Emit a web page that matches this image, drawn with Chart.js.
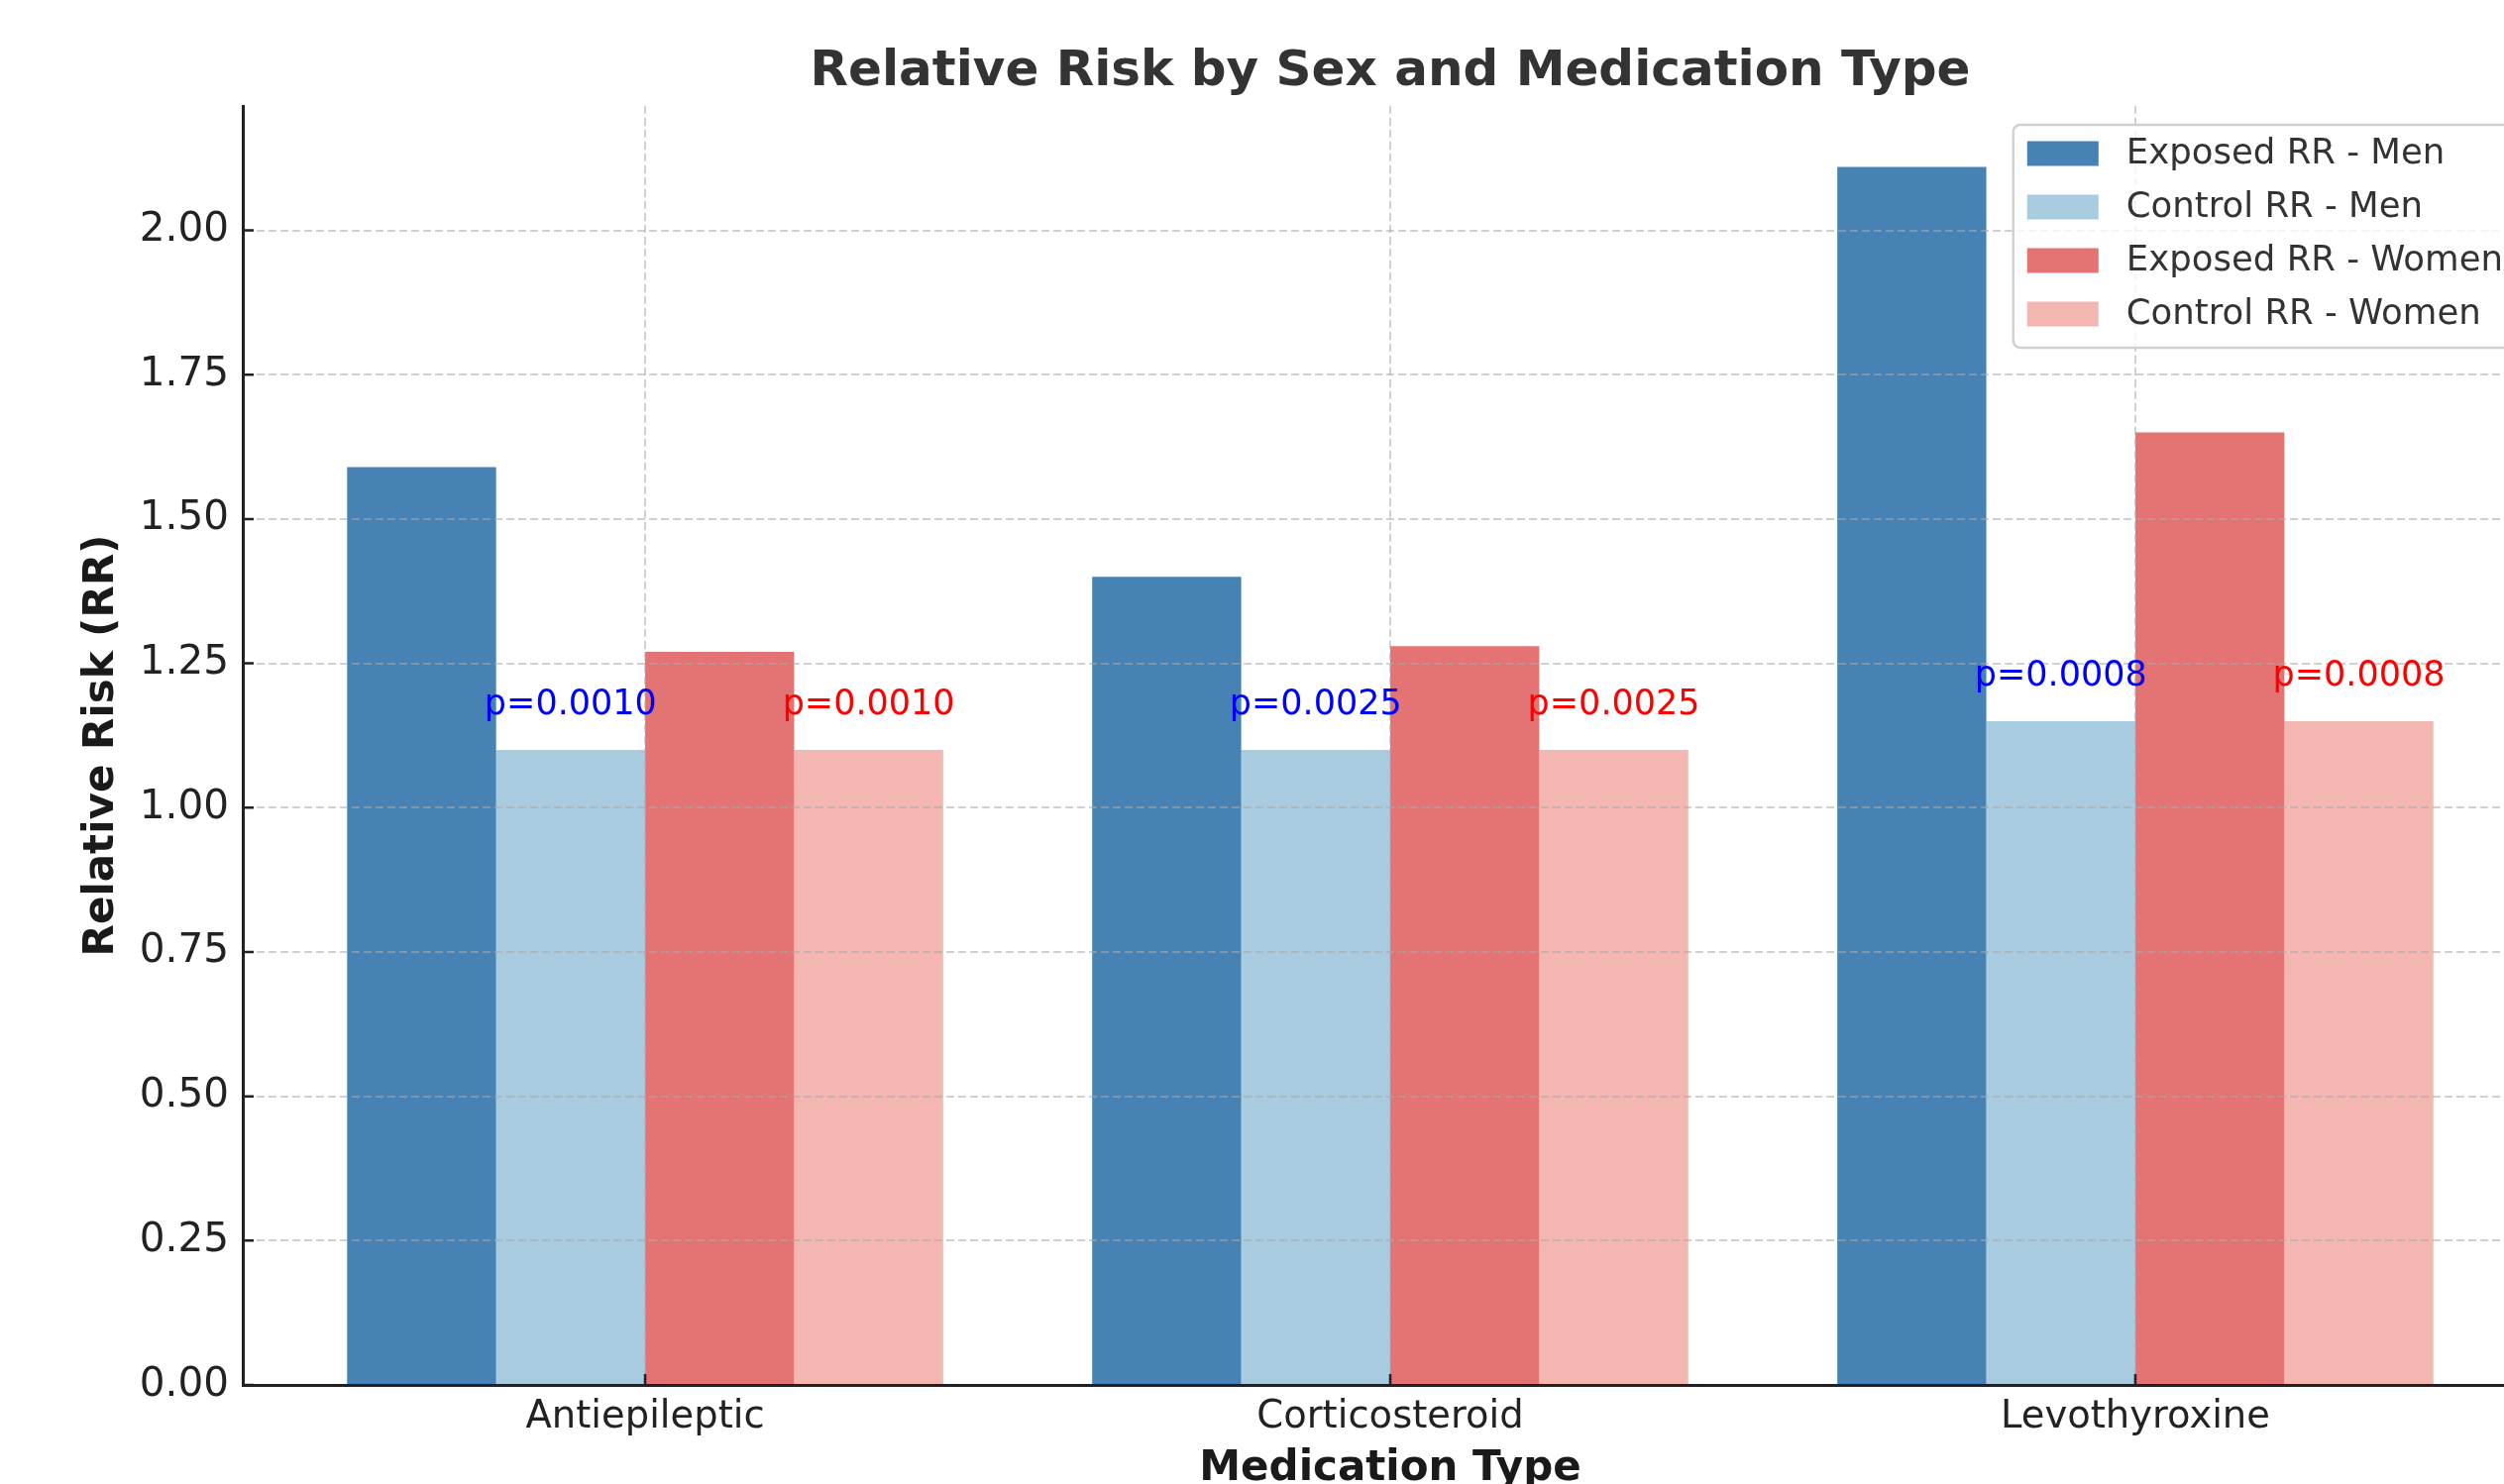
<!DOCTYPE html>
<html>
<head>
<meta charset="utf-8">
<title>Relative Risk by Sex and Medication Type</title>
<script src="https://cdn.jsdelivr.net/npm/chart.js@4.4.1/dist/chart.umd.min.js"></script>
<style>
html, body { margin: 0; padding: 0; overflow: hidden; background: #fff; }
#wrap { width: 2600px; height: 1520px; }
</style>
</head>
<body>
<div id="wrap"><canvas id="rrChart" width="2600" height="1520"></canvas></div>
<script>
const medications = ['Antiepileptic', 'Corticosteroid', 'Levothyroxine'];
const exposedMen = [1.59, 1.40, 2.11];
const controlMen = [1.10, 1.10, 1.15];
const exposedWomen = [1.27, 1.28, 1.65];
const controlWomen = [1.10, 1.10, 1.15];
const pValues = ['0.0010', '0.0025', '0.0008'];
const yTicks = [0, 0.25, 0.5, 0.75, 1.0, 1.25, 1.5, 1.75, 2.0];
const seriesLabels = ['Exposed RR - Men', 'Control RR - Men', 'Exposed RR - Women', 'Control RR - Women'];
const seriesColors = ['#4682b4', '#a9cbe0', '#e47373', '#f4b6b1'];

const yMax = 2.2155;
const fontFamily = '"DejaVu Sans", sans-serif';
const gridColor = 'rgba(170,170,170,0.55)';

const toPoints = (vals) => vals.map((v, i) => ({x: i, y: v}));
const seriesValues = [exposedMen, controlMen, exposedWomen, controlWomen];

// p-value text over the control bars (blue for men, red for women)
const pLabels = {
    id: 'pLabels',
    afterDraw(chart) {
        const ctx = chart.ctx;
        const yScale = chart.scales.y;
        ctx.save();
        ctx.font = '35px ' + fontFamily;
        ctx.textAlign = 'center';
        ctx.textBaseline = 'bottom';
        [[1, controlMen, '#0000ff'], [3, controlWomen, '#ff0000']].forEach(([dsIndex, vals, color]) => {
            let meta = chart.getDatasetMeta(dsIndex);
            meta.data.forEach((bar, j) => {
                ctx.fillStyle = color;
                ctx.fillText('p=' + pValues[j], bar.x, yScale.getPixelForValue(vals[j] + 0.048));
            });
        });
        ctx.restore();
    }
};

// matplotlib style ticks pointing into the plot
const inwardTicks = {
    id: 'inwardTicks',
    afterDraw(chart) {
        const {ctx, chartArea, scales} = chart;
        ctx.save();
        ctx.strokeStyle = '#222';
        ctx.lineWidth = 2.5;
        ctx.beginPath();
        scales.x.ticks.forEach(t => {
            let px = scales.x.getPixelForValue(t.value);
            ctx.moveTo(px, chartArea.bottom);
            ctx.lineTo(px, chartArea.bottom - 11);
        });
        scales.y.ticks.forEach(t => {
            let py = scales.y.getPixelForValue(t.value);
            ctx.moveTo(chartArea.left, py);
            ctx.lineTo(chartArea.left + 11, py);
        });
        ctx.stroke();
        ctx.restore();
    }
};

const legendBox = {
    id: 'legendBox',
    afterDraw(chart) {
        const {ctx, chartArea} = chart;
        ctx.save();
        ctx.font = '35.5px ' + fontFamily;
        let datasets = chart.data.datasets;
        let textW = Math.max(...datasets.map(d => ctx.measureText(d.label).width));
        let pad = 14, swW = 72, swH = 25, gap = 28, rowH = 54;
        let w = pad + swW + gap + textW + pad + 3;
        let h = 225;
        let left = chartArea.right - 18 - w;
        let top = chartArea.top + 19;
        ctx.beginPath();
        ctx.roundRect(left, top, w, h, 7);
        ctx.fillStyle = 'rgba(255,255,255,0.8)';
        ctx.fill();
        ctx.lineWidth = 2.5;
        ctx.strokeStyle = '#d0d0d0';
        ctx.stroke();
        ctx.textBaseline = 'middle';
        datasets.forEach((ds, i) => {
            let cy = top + 29 + i * rowH;
            ctx.fillStyle = ds.backgroundColor;
            ctx.fillRect(left + pad, cy - swH / 2, swW, swH);
            ctx.fillStyle = '#333';
            ctx.fillText(ds.label, left + pad + swW + gap, cy + 1);
        });
        ctx.restore();
    }
};

let ctx1 = document.getElementById('rrChart').getContext('2d');
let rrChart = new Chart(ctx1, {
    type: 'bar',
    data: {
        datasets: seriesLabels.map((label, i) => ({
            label: label,
            data: toPoints(seriesValues[i]),
            backgroundColor: seriesColors[i],
            borderWidth: 0,
            categoryPercentage: 0.8,
            barPercentage: 1.0
        }))
    },
    options: {
        responsive: false,
        animation: false,
        devicePixelRatio: 1,
        layout: { padding: { left: 0, right: 39, top: 0, bottom: 0 } },
        plugins: {
            legend: { display: false },
            tooltip: { enabled: false },
            title: {
                display: true,
                text: 'Relative Risk by Sex and Medication Type',
                color: '#333',
                fullSize: false,
                font: { family: fontFamily, size: 50, weight: 'bold' },
                padding: { top: 43, bottom: 4 }
            }
        },
        scales: {
            x: {
                type: 'linear',
                min: -0.54,
                max: 2.54,
                offset: false,
                afterBuildTicks: (scale) => { scale.ticks = medications.map((m, i) => ({value: i})); },
                afterFit: (scale) => { scale.height = 122; },
                ticks: {
                    callback: (v) => medications[v],
                    color: '#222',
                    font: { family: fontFamily, size: 38.5 },
                    padding: 10,
                    autoSkip: false,
                    maxRotation: 0
                },
                grid: { color: gridColor, lineWidth: 2, drawTicks: false, offset: false, z: 1 },
                border: { display: true, color: '#222', width: 3, dash: [8, 4], z: 2 },
                title: {
                    display: true,
                    text: 'Medication Type',
                    color: '#1a1a1a',
                    font: { family: fontFamily, size: 42, weight: 'bold' },
                    padding: { top: 0, bottom: 12 }
                }
            },
            y: {
                min: 0,
                max: yMax,
                afterBuildTicks: (scale) => { scale.ticks = yTicks.map(v => ({value: v})); },
                afterFit: (scale) => { scale.width = 245; },
                ticks: {
                    callback: (v) => Number(v).toFixed(2),
                    color: '#222',
                    font: { family: fontFamily, size: 40.5 },
                    padding: 14
                },
                grid: { color: gridColor, lineWidth: 2, drawTicks: false, z: 1 },
                border: { display: true, color: '#222', width: 3, dash: [8, 4], z: 2 },
                title: {
                    display: true,
                    text: 'Relative Risk (RR)',
                    color: '#1a1a1a',
                    font: { family: fontFamily, size: 42, weight: 'bold' },
                    padding: { top: 78, bottom: 0 }
                }
            }
        }
    },
    plugins: [pLabels, inwardTicks, legendBox]
});
</script>
</body>
</html>
